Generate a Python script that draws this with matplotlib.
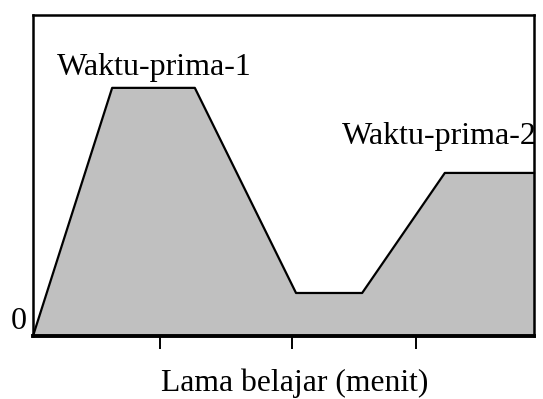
import matplotlib
matplotlib.use("Agg")
import matplotlib.pyplot as plt

plt.rcParams['font.family'] = ['Liberation Serif', 'DejaVu Serif']

# Data (relative units)
x_vals = [0, 15.8, 32.3, 52.5, 65.7, 82.2, 100]
y_vals = [0, 77.3, 77.3, 13.4, 13.4, 50.8, 50.8]
tick_pos = [25.3, 51.7, 76.4]
labels = ["Waktu-prima-1", "Waktu-prima-2"]
label_pos = [(24.2, 83.5), (81.2, 62.3)]
xlabel = "Lama belajar (menit)"

fig = plt.figure(figsize=(5.43, 3.99), dpi=100)
ax = fig.add_axes([33/543, 63/399, 501/543, 321/399])
ax.set_xlim(0, 100)
ax.set_ylim(0, 100)

ax.fill_between(x_vals, y_vals, 0, color='#c0c0c0', linewidth=0, zorder=1)
ax.plot(x_vals, y_vals, color='black', lw=1.6, zorder=2, clip_on=False)

for s in ax.spines.values():
    s.set_linewidth(1.8)
ax.spines['bottom'].set_linewidth(2.8)

ax.set_xticks(tick_pos)
ax.set_xticklabels([])
ax.tick_params(axis='x', direction='out', length=9, width=1.4)
ax.set_yticks([])

for lab, (lx, ly) in zip(labels, label_pos):
    ax.text(lx, ly, lab, ha='center', va='center', fontsize=23, clip_on=False)

ax.text(-0.012, 0.045, "0", transform=ax.transAxes, ha='right', va='center', fontsize=23)
ax.set_xlabel(xlabel, fontsize=22.8, labelpad=11)
ax.xaxis.label.set_x(0.522)

fig.savefig("out.png", dpi=100)
